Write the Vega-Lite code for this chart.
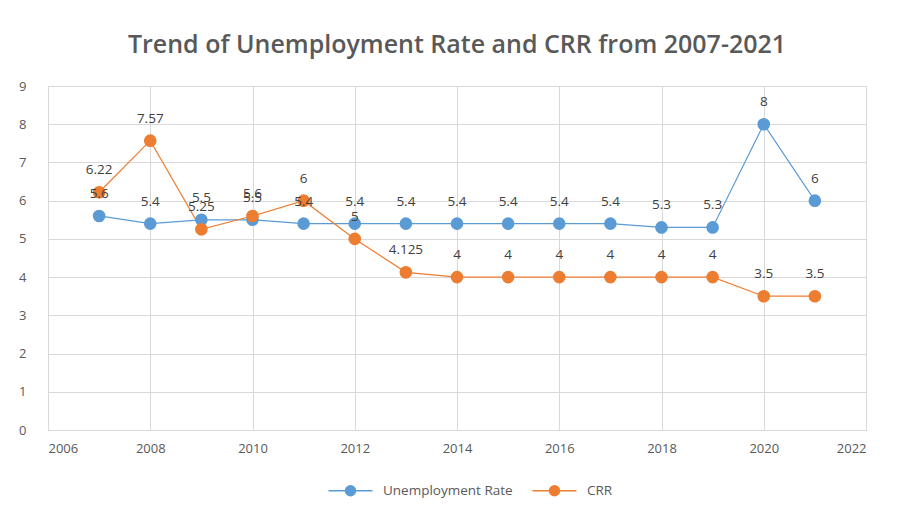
{
  "$schema": "https://vega.github.io/schema/vega-lite/v6.json",
  "width": 818,
  "height": 344,
  "autosize": {"type": "none"},
  "padding": {"left": 48, "top": 86, "right": 32, "bottom": 80},
  "background": "white",
  "title": {
    "text": "Trend of Unemployment Rate and CRR from 2007-2021",
    "fontSize": 25,
    "font": "Open Sans",
    "fontWeight": 600,
    "color": "#595959",
    "anchor": "middle",
    "offset": 22
  },
  "data": {
    "values": [
      {"year": 2007, "series": "Unemployment Rate", "value": 5.6},
      {"year": 2008, "series": "Unemployment Rate", "value": 5.4},
      {"year": 2009, "series": "Unemployment Rate", "value": 5.5},
      {"year": 2010, "series": "Unemployment Rate", "value": 5.5},
      {"year": 2011, "series": "Unemployment Rate", "value": 5.4},
      {"year": 2012, "series": "Unemployment Rate", "value": 5.4},
      {"year": 2013, "series": "Unemployment Rate", "value": 5.4},
      {"year": 2014, "series": "Unemployment Rate", "value": 5.4},
      {"year": 2015, "series": "Unemployment Rate", "value": 5.4},
      {"year": 2016, "series": "Unemployment Rate", "value": 5.4},
      {"year": 2017, "series": "Unemployment Rate", "value": 5.4},
      {"year": 2018, "series": "Unemployment Rate", "value": 5.3},
      {"year": 2019, "series": "Unemployment Rate", "value": 5.3},
      {"year": 2020, "series": "Unemployment Rate", "value": 8},
      {"year": 2021, "series": "Unemployment Rate", "value": 6},
      {"year": 2007, "series": "CRR", "value": 6.22},
      {"year": 2008, "series": "CRR", "value": 7.57},
      {"year": 2009, "series": "CRR", "value": 5.25},
      {"year": 2010, "series": "CRR", "value": 5.6},
      {"year": 2011, "series": "CRR", "value": 6},
      {"year": 2012, "series": "CRR", "value": 5},
      {"year": 2013, "series": "CRR", "value": 4.125},
      {"year": 2014, "series": "CRR", "value": 4},
      {"year": 2015, "series": "CRR", "value": 4},
      {"year": 2016, "series": "CRR", "value": 4},
      {"year": 2017, "series": "CRR", "value": 4},
      {"year": 2018, "series": "CRR", "value": 4},
      {"year": 2019, "series": "CRR", "value": 4},
      {"year": 2020, "series": "CRR", "value": 3.5},
      {"year": 2021, "series": "CRR", "value": 3.5}
    ]
  },
  "encoding": {
    "x": {
      "field": "year", "type": "quantitative",
      "scale": {"domain": [2006, 2022], "nice": false, "zero": false},
      "axis": {"title": null, "values": [2006, 2008, 2010, 2012, 2014, 2016, 2018, 2020, 2022], "format": "d", "labelFontSize": 13, "labelColor": "#595959", "labelFont": "Open Sans", "ticks": false, "domainColor": "#D9D9D9", "gridColor": "#D9D9D9", "labelPadding": 12}
    },
    "y": {
      "field": "value", "type": "quantitative",
      "scale": {"domain": [0, 9], "nice": false},
      "axis": {"title": null, "values": [0, 1, 2, 3, 4, 5, 6, 7, 8, 9], "labelFontSize": 13, "labelColor": "#595959", "labelFont": "Open Sans", "ticks": false, "domainColor": "#D9D9D9", "gridColor": "#D9D9D9", "labelPadding": 22}
    },
    "color": {
      "field": "series", "type": "nominal",
      "scale": {"domain": ["Unemployment Rate", "CRR"], "range": ["#5B9BD5", "#ED7D31"]},
      "legend": {
        "title": null, "orient": "none", "legendX": 288, "legendY": 390, "direction": "horizontal",
        "labelFontSize": 13.5, "labelColor": "#595959", "labelFont": "Open Sans",
        "symbolType": "M-1.6,0H1.6M0.36,0A0.36,0.36 0 1,1 -0.36,0A0.36,0.36 0 1,1 0.36,0Z",
        "symbolSize": 756, "symbolStrokeWidth": 1.5, "columnPadding": 16, "labelOffset": 18
      }
    }
  },
  "layer": [
    {"mark": {"type": "line", "strokeWidth": 1.2}, "encoding": {"detail": {"field": "series"}}},
    {"mark": {"type": "point", "filled": true, "shape": "circle", "size": 160, "opacity": 1}},
    {"mark": {"type": "text", "dy": -22, "fontSize": 13.5, "font": "Open Sans", "color": "#404040"},
     "encoding": {"text": {"field": "value", "type": "quantitative", "format": ".4~g"}, "color": {"value": "#404040"}}}
  ]
}
